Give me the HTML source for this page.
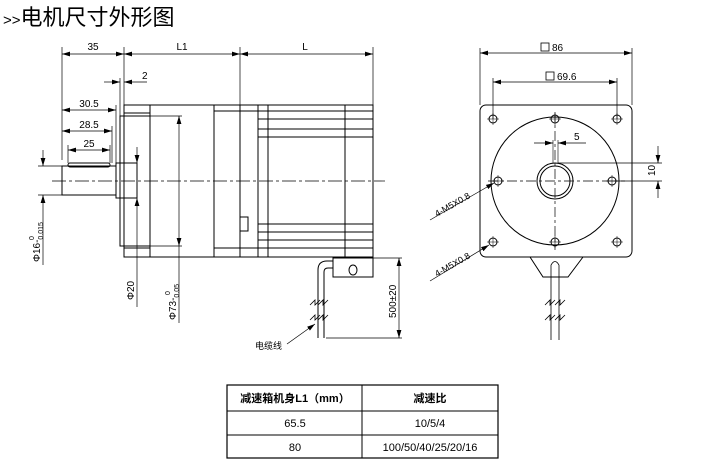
<!DOCTYPE html>
<html><head><meta charset="utf-8"><style>
body{margin:0;background:#fff;width:714px;height:465px;overflow:hidden}
svg text{font-family:"Liberation Sans","Noto Sans CJK SC",sans-serif}
</style></head><body>
<svg width="714" height="465" viewBox="0 0 714 465" xmlns="http://www.w3.org/2000/svg">
<defs>
<marker id="a" viewBox="0 0 10 6" refX="10" refY="3" markerWidth="8" markerHeight="5" orient="auto-start-reverse" markerUnits="userSpaceOnUse"><path d="M0,0L10,3L0,6z" fill="#000"/></marker>
</defs>
<text x="3" y="25" font-size="22" fill="#000"><tspan font-size="15">&gt;&gt;</tspan>电机尺寸外形图</text>
<g stroke="#000" stroke-width="1" fill="none">
<line x1="52" y1="181" x2="385" y2="181" stroke-dasharray="14,3,3,3" stroke-width="0.7"/>
<line x1="62" y1="47" x2="62" y2="160" stroke-width="0.7"/>
<line x1="124" y1="47" x2="124" y2="105" stroke-width="0.7"/>
<line x1="240" y1="47" x2="240" y2="105" stroke-width="0.7"/>
<line x1="373" y1="47" x2="373" y2="105" stroke-width="0.7"/>
<line x1="62" y1="54" x2="124" y2="54" marker-start="url(#a)" marker-end="url(#a)" stroke-width="0.7"/>
<line x1="124" y1="54" x2="240" y2="54" marker-start="url(#a)" marker-end="url(#a)" stroke-width="0.7"/>
<line x1="240" y1="54" x2="373" y2="54" marker-start="url(#a)" marker-end="url(#a)" stroke-width="0.7"/>
<line x1="120" y1="78" x2="120" y2="116" stroke-width="0.7"/>
<line x1="104" y1="82" x2="120" y2="82" marker-end="url(#a)" stroke-width="0.7"/>
<line x1="147" y1="82" x2="124" y2="82" marker-end="url(#a)" stroke-width="0.7"/>
<line x1="62" y1="110" x2="116" y2="110" marker-start="url(#a)" marker-end="url(#a)" stroke-width="0.7"/>
<line x1="116" y1="105" x2="116" y2="163" stroke-width="0.7"/>
<line x1="62" y1="131" x2="112" y2="131" marker-start="url(#a)" marker-end="url(#a)" stroke-width="0.7"/>
<line x1="112" y1="126" x2="112" y2="163" stroke-width="0.7"/>
<line x1="68" y1="150" x2="110" y2="150" marker-start="url(#a)" marker-end="url(#a)" stroke-width="0.7"/>
<line x1="68" y1="145" x2="68" y2="163" stroke-width="0.7"/><line x1="110" y1="145" x2="110" y2="163" stroke-width="0.7"/>
<rect x="62" y="166" width="54" height="29"/>
<rect x="68" y="163" width="42" height="4" rx="2"/>
<rect x="116" y="163" width="21" height="35"/>
<rect x="120" y="116" width="30" height="130"/>
<rect x="124" y="105" width="249" height="152"/>
<line x1="124" y1="113" x2="150" y2="113"/><line x1="124" y1="248" x2="150" y2="248"/>
<line x1="150" y1="105" x2="150" y2="257"/>
<line x1="214" y1="105" x2="214" y2="257"/>
<line x1="214" y1="111" x2="240" y2="111"/><line x1="214" y1="248" x2="240" y2="248"/>
<line x1="240" y1="105" x2="240" y2="257"/>
<line x1="240" y1="111" x2="258" y2="111"/><line x1="240" y1="248" x2="258" y2="248"/>
<rect x="240" y="217" width="8" height="14"/>
<line x1="258" y1="105" x2="258" y2="257"/><line x1="268" y1="105" x2="268" y2="257"/>
<line x1="345" y1="105" x2="345" y2="257"/>
<line x1="258" y1="111" x2="373" y2="111"/><line x1="258" y1="119" x2="373" y2="119"/><line x1="258" y1="129" x2="373" y2="129"/><line x1="258" y1="137" x2="373" y2="137"/>
<line x1="258" y1="224" x2="373" y2="224"/><line x1="258" y1="232" x2="373" y2="232"/><line x1="258" y1="240" x2="373" y2="240"/><line x1="258" y1="248" x2="373" y2="248"/>
<line x1="38" y1="166" x2="62" y2="166" stroke-width="0.7"/><line x1="38" y1="195" x2="62" y2="195" stroke-width="0.7"/>
<line x1="43" y1="150" x2="43" y2="166" marker-end="url(#a)" stroke-width="0.7"/>
<line x1="43" y1="265" x2="43" y2="195" marker-end="url(#a)" stroke-width="0.7"/>
<line x1="137" y1="147" x2="137" y2="163" marker-end="url(#a)" stroke-width="0.7"/>
<line x1="137" y1="307" x2="137" y2="198" marker-end="url(#a)" stroke-width="0.7"/>
<line x1="179" y1="116" x2="179" y2="246" marker-start="url(#a)" marker-end="url(#a)" stroke-width="0.7"/>
<line x1="179" y1="246" x2="179" y2="323" stroke-width="0.7"/>
<line x1="150" y1="116" x2="182" y2="116" stroke-width="0.7"/><line x1="150" y1="246" x2="182" y2="246" stroke-width="0.7"/>
<rect x="333" y="258" width="40" height="19"/>
<ellipse cx="353" cy="270" rx="4" ry="5"/>
<path d="M333,261 H327 Q318,261 318,270 V338 M333,268 H328 Q324,268 324,272 V338"/>
<path d="M310,305 l5,-5 v5 l5,-5 M318,305 l5,-5 v5 l5,-5 M310,320 l5,-5 v5 l5,-5 M318,320 l5,-5 v5 l5,-5" stroke-width="0.8"/>
<line x1="373" y1="258" x2="402" y2="258" stroke-width="0.7"/><line x1="326" y1="338" x2="402" y2="338" stroke-width="0.7"/>
<line x1="399" y1="258" x2="399" y2="338" marker-start="url(#a)" marker-end="url(#a)" stroke-width="0.7"/>
<line x1="287" y1="344" x2="315" y2="324" marker-end="url(#a)" stroke-width="0.7"/>
<rect x="480" y="105" width="152" height="152" rx="6"/>
<line x1="480" y1="48" x2="480" y2="105" stroke-width="0.7"/><line x1="632" y1="48" x2="632" y2="105" stroke-width="0.7"/>
<line x1="480" y1="53" x2="632" y2="53" marker-start="url(#a)" marker-end="url(#a)" stroke-width="0.7"/>
<line x1="493" y1="78" x2="493" y2="119" stroke-width="0.7"/><line x1="617" y1="78" x2="617" y2="119" stroke-width="0.7"/>
<line x1="493" y1="82" x2="617" y2="82" marker-start="url(#a)" marker-end="url(#a)" stroke-width="0.7"/>
<circle cx="555" cy="181" r="64"/>
<circle cx="555" cy="181" r="18"/><circle cx="555" cy="181" r="15"/>
<line x1="555" y1="112" x2="555" y2="250" stroke-dasharray="10,3,3,3" stroke-width="0.7"/>
<line x1="488" y1="181" x2="625" y2="181" stroke-dasharray="10,3,3,3" stroke-width="0.7"/>
<circle cx="493" cy="119" r="4"/><circle cx="617" cy="119" r="4"/><circle cx="493" cy="242" r="4"/><circle cx="617" cy="242" r="4"/>
<circle cx="555" cy="119" r="4"/><circle cx="555" cy="242" r="4"/><circle cx="498" cy="181" r="4"/><circle cx="612" cy="181" r="4"/>
<path stroke-width="0.5" d="M487,119h12M493,113v12M611,119h12M617,113v12M487,242h12M493,236v12M611,242h12M617,236v12M549,119h12M555,113v12M549,242h12M555,236v12M492,181h12M498,175v12M606,181h12M612,175v12"/>
<line x1="553" y1="140" x2="553" y2="163" stroke-width="0.6"/><line x1="558" y1="140" x2="558" y2="163" stroke-width="0.6"/>
<line x1="534" y1="143" x2="553" y2="143" marker-end="url(#a)" stroke-width="0.7"/>
<line x1="586" y1="143" x2="558" y2="143" marker-end="url(#a)" stroke-width="0.7"/>
<line x1="558" y1="163" x2="662" y2="163" stroke-width="0.7"/><line x1="612" y1="181" x2="662" y2="181" stroke-width="0.7"/>
<line x1="658" y1="146" x2="658" y2="163" marker-end="url(#a)" stroke-width="0.7"/>
<line x1="658" y1="198" x2="658" y2="181" marker-end="url(#a)" stroke-width="0.7"/>
<path d="M530,257 L543,277 H568 L583,257"/>
<path d="M551,265 V340 M559,265 V340 M551,265 Q555,258 559,265" stroke-width="0.8"/>
<path d="M545,305 l5,-5 v5 l5,-5 M555,305 l5,-5 v5 l5,-5 M545,320 l5,-5 v5 l5,-5 M555,320 l5,-5 v5 l5,-5" stroke-width="0.8"/>
<line x1="430" y1="220" x2="494" y2="183" marker-end="url(#a)" stroke-width="0.7"/>
<line x1="430" y1="281" x2="489" y2="245" marker-end="url(#a)" stroke-width="0.7"/>
<rect x="227" y="385" width="271" height="73" stroke-width="1.2"/>
<line x1="227" y1="411" x2="498" y2="411"/><line x1="227" y1="435" x2="498" y2="435"/>
<line x1="362" y1="385" x2="362" y2="458"/>
</g>
<g font-size="10" fill="#000">
<text x="93" y="50" text-anchor="middle">35</text>
<text x="182" y="50" text-anchor="middle">L1</text>
<text x="305" y="50" text-anchor="middle">L</text>
<text x="142" y="79">2</text>
<text x="89" y="107" text-anchor="middle">30.5</text>
<text x="89" y="128" text-anchor="middle">28.5</text>
<text x="89" y="147" text-anchor="middle">25</text>
<text transform="translate(40,262) rotate(-90)">Φ16-<tspan font-size="7" dy="3">0.015</tspan></text>
<text transform="translate(34,240) rotate(-90)" font-size="7">0</text>
<text transform="translate(134,300) rotate(-90)">Φ20</text>
<text transform="translate(176,320) rotate(-90)">Φ73-<tspan font-size="7" dy="3">0.05</tspan></text>
<text transform="translate(170,295) rotate(-90)" font-size="7">0</text>
<text transform="translate(396,318) rotate(-90)">500±20</text>
<text x="255" y="349" font-size="9">电缆线</text>
<text x="552" y="51">86</text><rect x="541" y="43" width="8" height="8" fill="none" stroke="#000" stroke-width="0.8"/>
<text x="557" y="80">69.6</text><rect x="546" y="72" width="8" height="8" fill="none" stroke="#000" stroke-width="0.8"/>
<text x="574" y="140">5</text>
<text transform="translate(655,176) rotate(-90)">10</text>
<text transform="translate(437,217) rotate(-30)" font-size="9">4-M5X0.8</text>
<text transform="translate(437,277) rotate(-30)" font-size="9">4-M5X0.8</text>
<g font-size="11">
<text x="295" y="402" text-anchor="middle" font-weight="bold">减速箱机身L1（mm）</text>
<text x="430" y="402" text-anchor="middle" font-weight="bold">减速比</text>
<text x="295" y="427" text-anchor="middle">65.5</text>
<text x="430" y="427" text-anchor="middle">10/5/4</text>
<text x="295" y="451" text-anchor="middle">80</text>
<text x="430" y="451" text-anchor="middle">100/50/40/25/20/16</text>
</g>
</g>
</svg>
</body></html>
